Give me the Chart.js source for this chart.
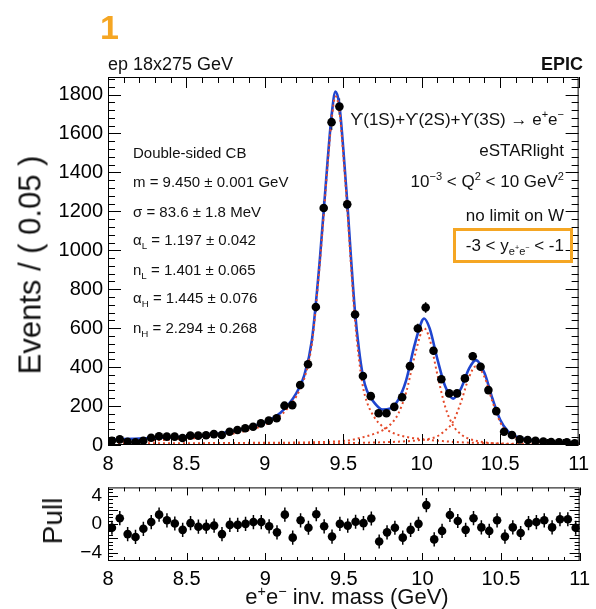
<!DOCTYPE html>
<html lang="en">
<head>
<meta charset="UTF-8">
<title>Upsilon e+e- invariant mass fit</title>
<script src="https://cdn.jsdelivr.net/npm/chart.js"></script>
<style>
  body { margin:0; background:#fff; font-family:"Liberation Sans", Arial, Helvetica, sans-serif; color:#111; }
  #wrap { position:relative; width:596px; height:609px; overflow:hidden; }
  canvas { position:absolute; left:0; }
  .txt { position:absolute; white-space:nowrap; line-height:1; transform:translateY(-50%); }
  .lft { left:133px; font-size:15px; }
  .rgt { right:32px; font-size:17px; }
  .rot { position:absolute; white-space:nowrap; line-height:1; transform:translate(-50%,-50%) rotate(-90deg); }
  sub, sup { font-size:0.65em; line-height:0; }
</style>
</head>
<body>
<div id="wrap">
  <canvas id="mainChart" width="596" height="470" style="top:0"></canvas>
  <canvas id="pullChart" width="596" height="139" style="top:470px"></canvas>

  <div class="txt" style="left:100px; top:27px; font-size:34px; font-weight:bold; color:#f5a623">1</div>
  <div class="txt" style="left:108px; top:64px; font-size:18px">ep 18x275 GeV</div>
  <div class="txt" style="right:13px; top:64px; font-size:18px; font-weight:bold">EPIC</div>

  <div class="txt lft" style="top:152px">Double-sided CB</div>
  <div class="txt lft" style="top:181px">m = 9.450 ± 0.001 GeV</div>
  <div class="txt lft" style="top:211px">σ = 83.6 ± 1.8 MeV</div>
  <div class="txt lft" style="top:239px">α<sub>L</sub> = 1.197 ± 0.042</div>
  <div class="txt lft" style="top:269px">n<sub>L</sub> = 1.401 ± 0.065</div>
  <div class="txt lft" style="top:297px">α<sub>H</sub> = 1.445 ± 0.076</div>
  <div class="txt lft" style="top:327px">n<sub>H</sub> = 2.294 ± 0.268</div>

  <div class="txt rgt" style="top:119px">ϒ(1S)+ϒ(2S)+ϒ(3S) → e<sup>+</sup>e<sup>−</sup></div>
  <div class="txt rgt" style="top:150px">eSTARlight</div>
  <div class="txt rgt" style="top:181px">10<sup>−3</sup> &lt; Q<sup>2</sup> &lt; 10 GeV<sup>2</sup></div>
  <div class="txt rgt" style="top:215px">no limit on W</div>
  <div class="txt rgt" style="top:245px">-3 &lt; y<sub>e<sup>+</sup>e<sup>−</sup></sub> &lt; -1</div>
  <div style="position:absolute; left:453px; top:228px; width:120px; height:35px; border:3px solid #f5a623; box-sizing:border-box"></div>

  <div class="rot" style="left:30px; top:265px; font-size:31px">Events / ( 0.05 )</div>
  <div class="rot" style="left:53px; top:521px; font-size:28px">Pull</div>
  <div class="txt" style="left:347px; top:597px; font-size:22px; transform:translate(-50%,-50%)">e<sup>+</sup>e<sup>−</sup> inv. mass (GeV)</div>
</div>

<script>
// bin centres, 0.05 GeV bins from 8 to 11
const massBins = [8.025, 8.075, 8.125, 8.175, 8.225, 8.275, 8.325, 8.375, 8.425, 8.475,
                  8.525, 8.575, 8.625, 8.675, 8.725, 8.775, 8.825, 8.875, 8.925, 8.975,
                  9.025, 9.075, 9.125, 9.175, 9.225, 9.275, 9.325, 9.375, 9.425, 9.475,
                  9.525, 9.575, 9.625, 9.675, 9.725, 9.775, 9.825, 9.875, 9.925, 9.975,
                  10.025, 10.075, 10.125, 10.175, 10.225, 10.275, 10.325, 10.375, 10.425, 10.475,
                  10.525, 10.575, 10.625, 10.675, 10.725, 10.775, 10.825, 10.875, 10.925, 10.975];
const events = [22, 29, 17, 14, 22, 37, 45, 43, 43, 36,
                48, 48, 50, 56, 51, 68, 77, 86, 94, 111,
                125, 137, 202, 205, 308, 415, 709, 1217, 1658, 1738,
                1236, 670, 354, 251, 163, 163, 196, 245, 405, 598,
                706, 484, 338, 265, 265, 342, 456, 402, 282, 174,
                68, 51, 29, 26, 21, 18, 15, 14, 14, 9];
const pulls = [-0.5, 0.85, -1.4, -1.8, -0.65, 0.3, 1.35, 0.55, 0.1, -0.8,
               0.15, -0.35, -0.35, -0.2, -1.4, -0.1, -0.1, 0.05, 0.3, 0.3,
               -0.3, -1.15, 1.35, -1.9, 0.55, -0.5, 1.4, -0.3, -1.75, 0.05,
               -0.2, 0.35, 0.15, 0.8, -2.45, -1.15, -0.5, -1.9, -0.8, 0.05,
               2.7, -2.15, -0.95, 1.3, 0.45, -0.8, 0.85, -0.45, -0.95, 0.55,
               -1.75, -0.45, -1.25, 0.15, 0.3, 0.55, -0.45, 0.7, 0.7, -0.5];

// fit curves at these masses
const fitX = [8.0, 8.1, 8.2, 8.3, 8.4, 8.5, 8.6, 8.7, 8.8, 8.9,
              9.0, 9.05, 9.1, 9.15, 9.2, 9.25, 9.3, 9.35, 9.4, 9.425,
              9.45, 9.475, 9.5, 9.525, 9.55, 9.575, 9.6, 9.625, 9.65, 9.7,
              9.75, 9.8, 9.85, 9.9, 9.95, 10.0, 10.015, 10.05, 10.1, 10.15,
              10.2, 10.25, 10.3, 10.345, 10.4, 10.45, 10.5, 10.55, 10.6, 10.65,
              10.7, 10.8, 10.9, 11.0];
const fitTotal = [28, 30, 33, 36, 40, 44, 50, 58, 72, 90,
                  117, 138, 166, 208, 265, 355, 540, 950, 1460, 1690,
                  1815, 1745, 1520, 1250, 950, 680, 490, 355, 280, 215,
                  182, 188, 232, 330, 500, 635, 650, 600, 440, 300,
                  238, 290, 390, 436, 370, 240, 130, 70, 44, 32,
                  25, 17, 13, 10];
const fit1S = [16, 18, 21, 24, 28, 32, 38, 46, 59, 77,
               103, 124, 151, 193, 249, 338, 522, 930, 1438, 1666,
               1790, 1718, 1490, 1217, 912, 636, 440, 300, 222, 140,
               95, 68, 52, 42, 35, 30, 29, 26, 22, 19,
               16, 14, 12, 11, 10, 9, 8, 7, 6.5, 6,
               5.5, 5, 4.5, 4];
const fit2S = [8, 8, 8.5, 8.5, 9, 9, 9.5, 10, 10, 11,
               11, 11.5, 12, 12, 13, 13, 14, 15, 16, 17,
               18, 19, 21, 23, 26, 30, 35, 40, 45, 58,
               75, 105, 160, 268, 440, 585, 600, 545, 360, 195,
               100, 55, 32, 22, 14, 9, 6, 4, 3, 2.5,
               2, 1.5, 1, 1];
const fit3S = [4, 4, 4.2, 4.3, 4.5, 4.7, 5, 5.2, 5.5, 5.8,
               6, 6.2, 6.5, 6.8, 7, 7.3, 7.6, 8, 8.4, 8.6,
               8.8, 9, 9.3, 9.7, 10, 10.5, 11, 11.5, 12, 13,
               14, 15.5, 17, 19, 22, 26, 27, 32, 45, 75,
               120, 220, 345, 405, 350, 225, 118, 60, 36, 26,
               20, 13, 10, 8];

const FONT = '"Liberation Sans", Arial, Helvetica, sans-serif';
const RED = '#e54a2a';
const BLUE = '#1f45cf';

function pts(xs, ys) {
    return xs.map((x, i) => ({x: x, y: ys[i]}));
}

// ROOT-like frame with inward ticks on all four sides
function makeFrame(o) {
    return {
        id: 'frame',
        afterDraw(chart) {
            const ctx = chart.ctx, a = chart.chartArea;
            const xs = chart.scales.x, ys = chart.scales.y;
            ctx.save();
            ctx.strokeStyle = '#000';
            ctx.lineWidth = 1;
            ctx.strokeRect(a.left + 0.5, a.top + 0.5, a.right - a.left - 1, a.bottom - a.top - 1);
            ctx.beginPath();
            let n = Math.round((xs.max - xs.min) / o.xMinor);
            for (let i = 0; i <= n; i++) {
                const v = xs.min + i * o.xMinor;
                const p = Math.round(xs.getPixelForValue(v)) + 0.5;
                const r = v / o.xMajor;
                const len = Math.abs(r - Math.round(r)) < 1e-6 ? o.xMaj : o.xMin;
                ctx.moveTo(p, a.bottom); ctx.lineTo(p, a.bottom - len);
                ctx.moveTo(p, a.top); ctx.lineTo(p, a.top + len);
            }
            const y0 = Math.ceil(ys.min / o.yMinor);
            const y1 = Math.floor(ys.max / o.yMinor);
            for (let i = y0; i <= y1; i++) {
                const v = i * o.yMinor;
                const p = Math.round(ys.getPixelForValue(v)) + 0.5;
                const r = v / o.yMajor;
                const len = Math.abs(r - Math.round(r)) < 1e-6 ? o.yMaj : o.yMin;
                ctx.moveTo(a.left, p); ctx.lineTo(a.left + len, p);
                ctx.moveTo(a.right, p); ctx.lineTo(a.right - len, p);
            }
            ctx.stroke();
            ctx.restore();
        }
    };
}

// vertical error bars for the first dataset
function makeErrors(errFn) {
    return {
        id: 'errors',
        beforeDatasetsDraw(chart) {
            const ctx = chart.ctx, a = chart.chartArea, ys = chart.scales.y;
            const meta = chart.getDatasetMeta(0);
            const ds = chart.data.datasets[0].data;
            ctx.save();
            ctx.beginPath();
            ctx.rect(a.left, a.top, a.right - a.left, a.bottom - a.top);
            ctx.clip();
            ctx.strokeStyle = '#000';
            ctx.lineWidth = 1.5;
            ctx.beginPath();
            meta.data.forEach((el, i) => {
                const v = ds[i].y, e = errFn(v);
                ctx.moveTo(el.x, ys.getPixelForValue(v - e));
                ctx.lineTo(el.x, ys.getPixelForValue(v + e));
            });
            ctx.stroke();
            ctx.restore();
        }
    };
}

function curve(data, color, width, dash) {
    return {
        data: data, showLine: true, pointRadius: 0, borderColor: color,
        borderWidth: width, borderDash: dash, cubicInterpolationMode: 'monotone', fill: false
    };
}

const tickFont = {family: FONT, size: 20};
const noGrid = {display: false, drawTicks: false, tickLength: 0};

new Chart(document.getElementById('mainChart'), {
    type: 'scatter',
    data: {
        datasets: [
            {data: pts(massBins, events), pointRadius: 4.3, backgroundColor: '#000', borderWidth: 0},
            curve(pts(fitX, fit1S), RED, 2, [2, 3]),
            curve(pts(fitX, fit2S), RED, 2, [2, 3]),
            curve(pts(fitX, fit3S), RED, 2, [2, 3]),
            curve(pts(fitX, fitTotal), BLUE, 2.6, [])
        ]
    },
    options: {
        responsive: false, animation: false, devicePixelRatio: 1,
        layout: {padding: {top: 77, right: 10, left: 0, bottom: 0}},
        plugins: {legend: {display: false}, tooltip: {enabled: false}},
        scales: {
            x: {
                type: 'linear', min: 8, max: 11,
                grid: noGrid, border: {display: false},
                ticks: {stepSize: 0.5, autoSkip: false, maxRotation: 0, padding: 7, color: '#000', font: tickFont,
                        callback: v => String(v)},
                afterFit: s => { s.height = 25; }
            },
            y: {
                min: 0, max: 1890,
                grid: noGrid, border: {display: false},
                ticks: {stepSize: 200, includeBounds: false, padding: 5, color: '#000', font: tickFont,
                        callback: v => String(v)},
                afterFit: s => { s.width = 108; }
            }
        }
    },
    plugins: [makeErrors(v => Math.sqrt(v)),
              makeFrame({xMinor: 0.1, xMajor: 0.5, xMaj: 11, xMin: 6, yMinor: 40, yMajor: 200, yMaj: 13, yMin: 7})]
});

new Chart(document.getElementById('pullChart'), {
    type: 'scatter',
    data: {
        datasets: [
            {data: pts(massBins, pulls), pointRadius: 4.3, backgroundColor: '#000', borderWidth: 0}
        ]
    },
    options: {
        responsive: false, animation: false, devicePixelRatio: 1,
        layout: {padding: {top: 8, right: 10, left: 0, bottom: 0}},
        plugins: {legend: {display: false}, tooltip: {enabled: false}},
        scales: {
            x: {
                type: 'linear', min: 8, max: 11,
                grid: noGrid, border: {display: false},
                ticks: {stepSize: 0.5, autoSkip: false, maxRotation: 0, padding: 6, color: '#000', font: tickFont,
                        callback: v => String(v)},
                afterFit: s => { s.height = 48; }
            },
            y: {
                min: -5.2, max: 5.2,
                grid: noGrid, border: {display: false},
                ticks: {stepSize: 2, includeBounds: false, padding: 6, color: '#000', font: {family: FONT, size: 19},
                        callback: v => v < 0 ? '\u2212' + Math.abs(v) : String(v)},
                afterFit: s => { s.width = 108; }
            }
        }
    },
    plugins: [makeErrors(() => 1),
              makeFrame({xMinor: 0.1, xMajor: 0.5, xMaj: 8, xMin: 4, yMinor: 0.5, yMajor: 2, yMaj: 10, yMin: 5})]
});
</script>
</body>
</html>
